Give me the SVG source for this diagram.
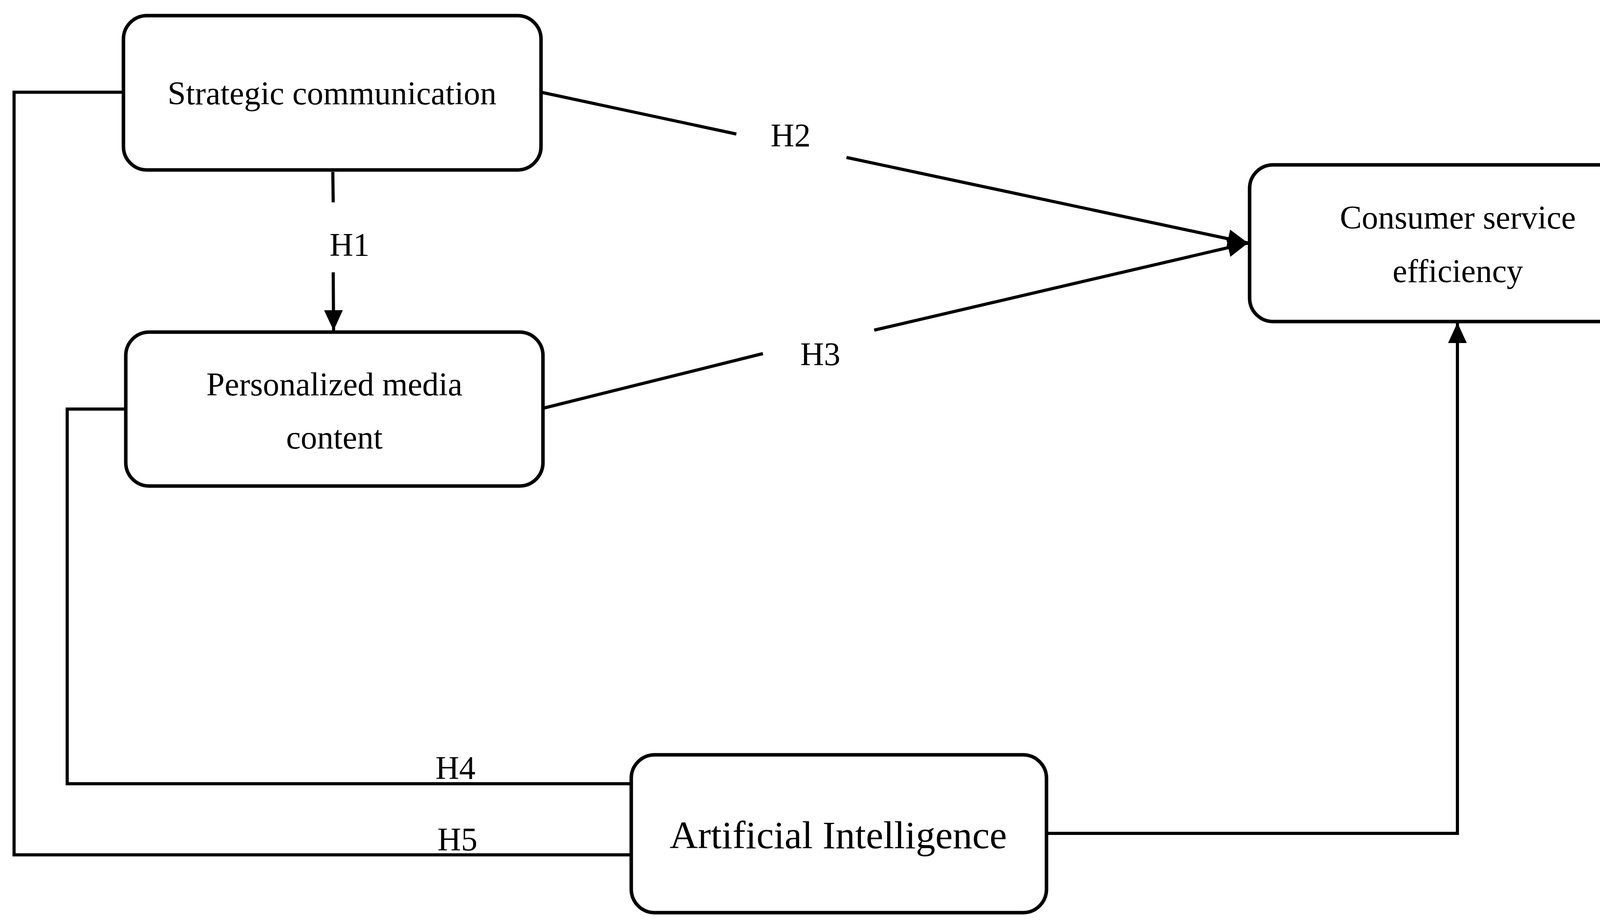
<svg xmlns="http://www.w3.org/2000/svg" width="4301" height="2365" viewBox="0 0 4301 2365">
<style>
.box{fill:#fff;stroke:#000;stroke-width:9}
.ln{fill:none;stroke:#000;stroke-width:8}
text{font-family:"Liberation Serif","Times New Roman",serif;font-size:84px;fill:#000;text-anchor:middle}
.lb{text-anchor:start}
</style>
<defs>
<marker id="ah" markerUnits="userSpaceOnUse" markerWidth="60" markerHeight="60" viewBox="0 0 60 60" refX="56" refY="30" orient="auto">
<path d="M4,6 L56,30 L4,54 Z" fill="#000"/>
</marker>
</defs>
<rect width="4301" height="2365" fill="#fff"/>
<g id="connectors">
<polyline class="ln" points="316,236 36,236 36,2188 1616,2188"/>
<polyline class="ln" points="322,1047 172,1047 172,2006 1616,2006"/>
<line class="ln" x1="852" y1="440" x2="853" y2="518"/>
<line class="ln" x1="853" y1="697" x2="854" y2="846" marker-end="url(#ah)"/>
<line class="ln" x1="1385" y1="236" x2="1885" y2="343"/>
<line class="ln" x1="2167" y1="403" x2="3195" y2="622" marker-end="url(#ah)"/>
<line class="ln" x1="1390" y1="1045" x2="1953" y2="905"/>
<line class="ln" x1="2238" y1="845" x2="3195" y2="622" marker-end="url(#ah)"/>
<polyline class="ln" points="2679,2133 3731,2133 3731,826" marker-end="url(#ah)"/>
<text x="895" y="655">H1</text>
<text x="2024" y="375">H2</text>
<text x="2100" y="935">H3</text>
<text x="1166" y="1994">H4</text>
<text x="1171" y="2177">H5</text>
</g>
<g id="strategic">
<rect class="box" x="316" y="40" width="1069" height="395" rx="60"/>
<text x="850" y="267">Strategic communication</text>
</g>
<g id="personalized">
<rect class="box" x="322" y="850" width="1068" height="394" rx="60"/>
<text x="856" y="1012">Personalized media</text>
<text x="856" y="1148">content</text>
</g>
<g id="consumer">
<rect class="box" x="3199" y="422" width="1066" height="401" rx="60"/>
<text x="3732" y="585">Consumer service</text>
<text x="3732" y="722">efficiency</text>
</g>
<g id="ai">
<rect class="box" x="1616" y="1932" width="1063" height="404" rx="60"/>
<text x="2146" y="2171" style="font-size:100px">Artificial Intelligence</text>
</g>
</svg>
